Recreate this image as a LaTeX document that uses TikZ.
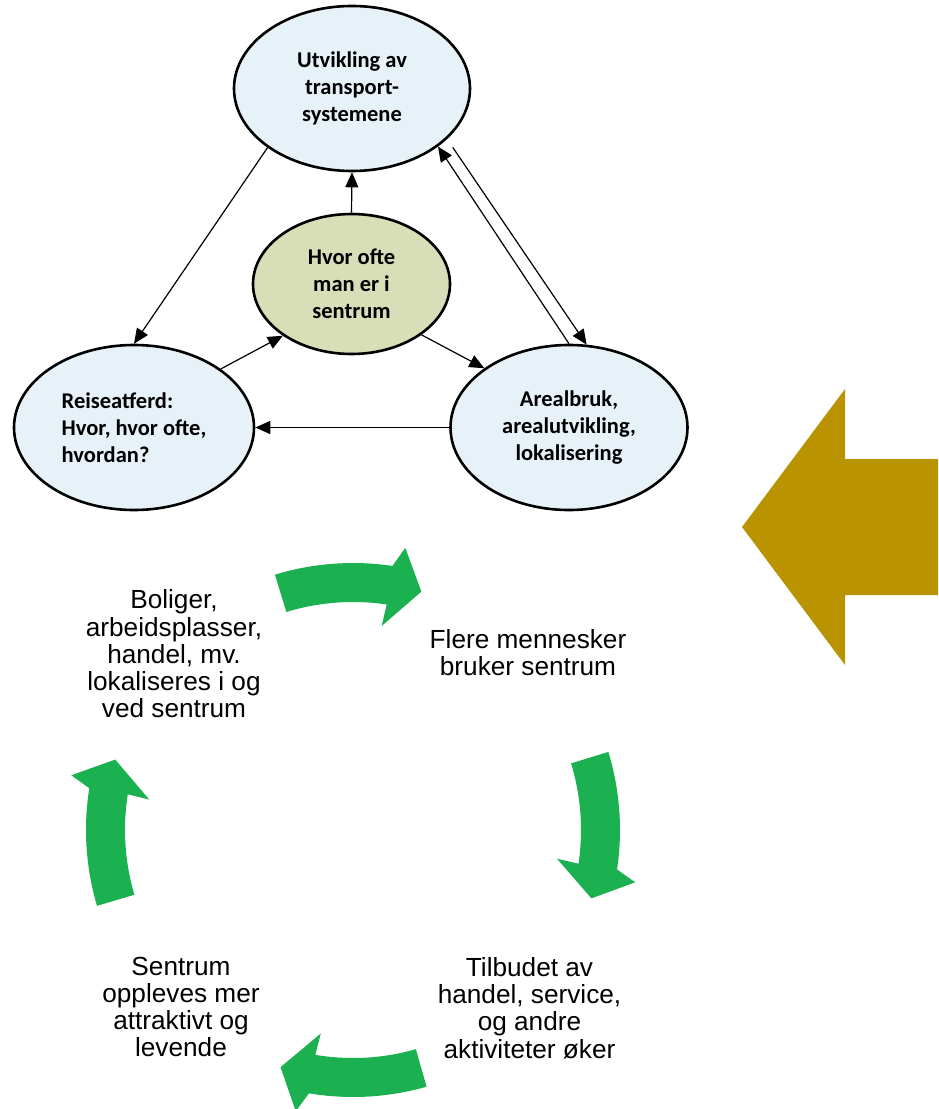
\documentclass[tikz,border=0pt]{standalone}
\usepackage{fontspec}
\setmainfont{Carlito}
\newfontfamily\arialfont{Liberation Sans}
\usetikzlibrary{arrows.meta,shapes.geometric}
\definecolor{bubblefill}{RGB}{230,242,248}
\definecolor{midfill}{RGB}{216,222,184}
\definecolor{cyclegreen}{RGB}{27,176,80}
\definecolor{goldarrow}{RGB}{186,148,0}

\begin{document}
\begin{tikzpicture}[x=1pt,y=1pt,
        bubble/.style={ellipse, draw=black, line width=2.6pt, fill=bubblefill, inner sep=0pt,
            minimum height=165, align=center, font=\bfseries\fontsize{22.5}{27}\selectfont},
        link/.style={line width=1.2pt, -{Triangle[length=15pt,width=13pt]}},
        cycletext/.style={align=center, inner sep=0pt, font=\arialfont\fontsize{26.2}{27.2}\selectfont}]
            \useasboundingbox (0,0) rectangle (938,-1109);

            \node[bubble, minimum width=236] (trans) at (352,-88.5) {Utvikling av\\transport-\\systemene};
            \node[bubble, minimum width=240, align=left] (reise) at (134,-427.5) {Reiseatferd:\\Hvor, hvor ofte,\\hvordan?};
            \node[bubble, minimum width=237] (areal) at (569,-427.5) {Arealbruk,\\arealutvikling,\\lokalisering};
            \node[bubble, fill=midfill, minimum width=197, minimum height=140] (mid) at (351.5,-284) {Hvor ofte\\man er i\\sentrum};

            \draw[link] (trans.215) -- (reise.north);
            \draw[link] (mid.north) -- (trans.south);
            \draw[link] (reise.34) -- (mid.217);
            \draw[link] (mid.324) -- (areal.145);
            \draw[link] (areal.west) -- (reise.east);
            \draw[link] (areal.north) -- (trans.326);
            \draw[link, shorten <=10pt] (trans.332) -- (areal.78);

            \fill[goldarrow] (742,-527) -- (845,-389) -- (845,-459) -- (938,-459)
                -- (938,-595) -- (845,-595) -- (845,-665) -- cycle;

            \node[cycletext] (bolig) at (174,-654) {Boliger,\\arbeidsplasser,\\handel, mv.\\lokaliseres i og\\ved sentrum};
            \node[cycletext] (flere) at (528,-653) {Flere mennesker\\bruker sentrum};
            \node[cycletext] (tilbud) at (529.5,-1008) {Tilbudet av\\handel, service,\\og andre\\aktiviteter øker};
            \node[cycletext] (attrakt) at (181,-1007) {Sentrum\\oppleves mer\\attraktivt og\\levende};

            \begin{scope}[shift={(353,-830)}]
                \foreach \a in {107,17,-74,-163.5}
                    \fill[cyclegreen] (\a:267) arc[start angle=\a, end angle=\a-25.5, radius=267]
                        -- (\a-27.5:287) -- (\a-33:248) -- (\a-25:206) -- (\a-25.5:228)
                        arc[start angle=\a-25.5, end angle=\a, radius=228] -- cycle;
            \end{scope}
        \end{tikzpicture}
\end{document}
